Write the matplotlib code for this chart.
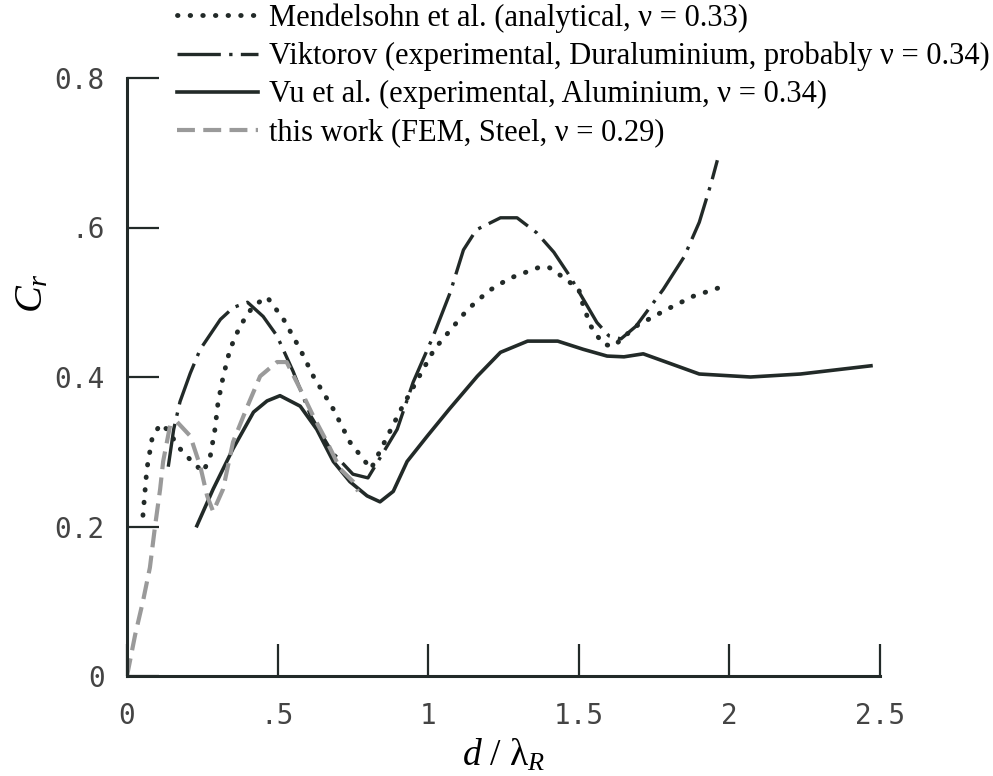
import matplotlib.pyplot as plt

mend_x = [0.053, 0.066, 0.083, 0.11, 0.133, 0.176, 0.22, 0.253, 0.276, 0.292, 0.302, 0.319,
          0.342, 0.375, 0.419, 0.465, 0.52, 0.575, 0.62, 0.685, 0.74, 0.81, 0.91, 1.02, 1.13,
          1.2, 1.27, 1.37, 1.40, 1.46, 1.5, 1.515, 1.54, 1.58, 1.615, 1.69, 1.79, 1.88, 1.97]
mend_y = [0.215, 0.277, 0.317, 0.337, 0.33, 0.304, 0.285, 0.273, 0.293, 0.33, 0.365, 0.40,
          0.437, 0.468, 0.495, 0.507, 0.477, 0.437, 0.40, 0.357, 0.313, 0.277, 0.357, 0.437, 0.49,
          0.515, 0.532, 0.547, 0.547, 0.53, 0.517, 0.495, 0.468, 0.444, 0.441, 0.468, 0.49, 0.508, 0.52]

vikt_x = [0.137, 0.155, 0.176, 0.21, 0.243, 0.31, 0.353, 0.40, 0.452, 0.498, 0.552, 0.61,
          0.68, 0.75, 0.80, 0.83, 0.897, 0.95, 1.017, 1.073, 1.117, 1.16, 1.24, 1.295, 1.36,
          1.417, 1.47, 1.515, 1.56, 1.60, 1.64, 1.69, 1.78, 1.85, 1.90, 1.94, 1.96]
vikt_y = [0.28, 0.33, 0.367, 0.405, 0.437, 0.477, 0.493, 0.50, 0.481, 0.455, 0.407, 0.348,
          0.30, 0.27, 0.265, 0.285, 0.33, 0.393, 0.455, 0.513, 0.57, 0.597, 0.613, 0.613, 0.593,
          0.567, 0.535, 0.504, 0.473, 0.455, 0.451, 0.468, 0.517, 0.561, 0.607, 0.66, 0.69]

vu_x = [0.232, 0.286, 0.352, 0.42, 0.465, 0.508, 0.575, 0.63, 0.685, 0.74, 0.797, 0.84, 0.884,
        0.93, 0.997, 1.07, 1.163, 1.24, 1.33, 1.43, 1.515, 1.594, 1.65, 1.714, 1.79, 1.90,
        2.07, 2.236, 2.47]
vu_y = [0.201, 0.25, 0.304, 0.353, 0.368, 0.375, 0.361, 0.33, 0.287, 0.26, 0.241, 0.233, 0.247,
        0.287, 0.321, 0.357, 0.401, 0.433, 0.448, 0.448, 0.437, 0.428, 0.427, 0.431, 0.42, 0.404,
        0.40, 0.404, 0.415]

fem_x = [0.0, 0.027, 0.053, 0.076, 0.093, 0.11, 0.12, 0.143, 0.166, 0.21, 0.243, 0.266, 0.286,
         0.319, 0.352, 0.40, 0.442, 0.498, 0.53, 0.575, 0.618, 0.664, 0.708, 0.751, 0.767]
fem_y = [0.0, 0.055, 0.1, 0.145, 0.2, 0.25, 0.287, 0.335, 0.34, 0.321, 0.281, 0.241, 0.22,
         0.25, 0.313, 0.361, 0.401, 0.42, 0.42, 0.384, 0.348, 0.313, 0.277, 0.26, 0.247]

labels = ["Mendelsohn et al. (analytical, \u03bd = 0.33)",
          "Viktorov (experimental, Duraluminium, probably \u03bd = 0.34)",
          "Vu et al. (experimental, Aluminium, \u03bd = 0.34)",
          "this work (FEM, Steel, \u03bd = 0.29)"]

xticks = [0, 0.5, 1, 1.5, 2, 2.5]
xticklabels = ["0", ".5", "1", "1.5", "2", "2.5"]
yticks = [0, 0.2, 0.4, 0.6, 0.8]
yticklabels = ["0", "0.2", "0.4", ".6", "0.8"]

INK = '#222a28'
GREY = '#9a9a9a'

plt.rcParams['mathtext.fontset'] = 'custom'
plt.rcParams['mathtext.rm'] = 'Liberation Serif'
plt.rcParams['mathtext.it'] = 'Liberation Serif:italic'

fig = plt.figure(figsize=(9.93, 7.76), dpi=100)
ax = fig.add_axes([127 / 993, 1 - 676 / 776, (880 - 127) / 993, (676 - 78) / 776])

ax.plot(mend_x, mend_y, color=INK, lw=3.5, linestyle=(0, (0.1, 2.5)),
        dash_capstyle='round', label=labels[0])
ax.plot(vikt_x, vikt_y, color=INK, lw=2.4, linestyle=(0, (13, 2.5, 1, 2.5)), label=labels[1])
ax.plot(vu_x, vu_y, color=INK, lw=2.6, label=labels[2])
ax.plot(fem_x, fem_y, color=GREY, lw=3, linestyle=(0, (4.3, 2)), label=labels[3])

ax.set_xlim(0, 2.5)
ax.set_ylim(0, 0.8)
for s in ['top', 'right']:
    ax.spines[s].set_visible(False)
for s in ['left', 'bottom']:
    ax.spines[s].set_linewidth(2.2)
    ax.spines[s].set_color(INK)

ax.set_xticks(xticks)
ax.set_xticklabels(xticklabels)
ax.set_yticks(yticks)
ax.set_yticklabels(yticklabels)
ax.tick_params(direction='in', length=23, width=1.6, color=INK,
               labelsize=20, labelcolor='#444444')
ax.tick_params(axis='x', pad=19)
ax.tick_params(axis='y', pad=16)
for t in ax.get_xticklabels() + ax.get_yticklabels():
    t.set_family('DejaVu Sans Mono')

ax.set_xlabel(r'$d\ /\ \mathrm{\lambda}_R$', fontsize=27)
ax.xaxis.set_label_coords(0.5, -0.103)
ax.set_ylabel(r'$C_r$', fontsize=29)
ax.yaxis.set_label_coords(-0.1, 0.64)

ax.legend(loc='upper left', bbox_to_anchor=(174 / 993, 1.0), bbox_transform=fig.transFigure,
          frameon=False, prop={'family': 'Liberation Serif', 'size': 22},
          handlelength=2.65, handletextpad=0.35, labelspacing=0.3, borderpad=0.1,
          borderaxespad=0)

fig.savefig('out.png', dpi=100)
